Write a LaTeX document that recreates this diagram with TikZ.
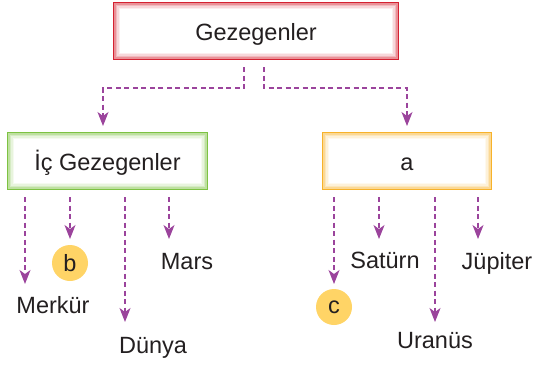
\documentclass[tikz,border=0pt]{standalone}
\usepackage{fontspec}
\setmainfont{Liberation Sans}
\usetikzlibrary{arrows.meta}
\definecolor{txt}{HTML}{231F20}
\definecolor{arrc}{HTML}{9B449C}
\definecolor{dotc}{HTML}{FFD466}
\definecolor{redb}{HTML}{D42030}
\definecolor{greenb}{HTML}{7DC242}
\definecolor{orangeb}{HTML}{F7B22A}
\newcommand\lbl{\fontsize{23.5}{27}\selectfont}
\newcommand\glowrect[2]{%
  \foreach \d/\p in {1.5/50,3/32,4.5/18,6/8}
    \draw[#2!\p!white, line width=1.5pt] ([shift={(\d,\d)}]#1.north west) rectangle ([shift={(-\d,-\d)}]#1.south east);
  \draw[#2, line width=1pt] (#1.north west) rectangle (#1.south east);
}
\tikzset{
  box/.style={draw=#1, line width=1pt, fill=white, minimum height=56pt, font=\lbl, text=txt, text height=22pt, text depth=4pt, inner sep=0pt},
  boxlbl/.style={font=\lbl, text=txt, text height=22pt, text depth=4pt, inner sep=0pt},
  arr/.style={draw=arrc, line width=1.2pt, dash pattern=on 5pt off 3.5pt, -{Stealth[length=14pt,width=11pt,inset=4pt]}},
  leaf/.style={font=\lbl, text=txt, inner sep=0pt, anchor=base},
  dot/.style={circle, fill=dotc, minimum size=36pt, inner sep=0pt, font=\lbl, text=txt},
}
\begin{document}
\begin{tikzpicture}[x=1pt,y=-1pt]
\useasboundingbox (0,0) rectangle (534,364);
% boxes
\node[box=redb, minimum width=284pt] (top) at (256,31) {};
\glowrect{top}{redb}
\node[boxlbl] (toplbl) at (top.center) {Gezegenler};
\node[box=greenb, minimum width=199pt] (ic) at (107.5,161) {};
\glowrect{ic}{greenb}
\node[boxlbl] (iclbl) at (ic.center) {İç Gezegenler};
\node[box=orangeb, minimum width=168pt] (dis) at (407,161) {};
\glowrect{dis}{orangeb}
\node[boxlbl] (dislbl) at (dis.center) {a};
% top connectors
\coordinate (s1) at (244,67);
\coordinate (s2) at (264,67);
\coordinate (e1) at (103,126);
\coordinate (e2) at (407,126);
\draw[arr] (s1) -- ++(0,21) -| (e1);
\draw[arr] (s2) -- ++(0,21) -| (e2);
% leaves
\node[leaf] (merkur) at (53,313) {Merkür};
\node[dot] (b) at (70,263) {b};
\node[leaf] (dunya) at (153,353) {Dünya};
\node[leaf] (mars) at (187,269) {Mars};
\node[dot] (c) at (334,307) {c};
\node[leaf] (saturn) at (385,268) {Satürn};
\node[leaf] (uranus) at (435,348) {Uranüs};
\node[leaf] (jupiter) at (497,269) {Jüpiter};
% leaf arrows
\foreach \n/\x/\y in {a1/25/284, a2/70/239, a3/125/322, a4/169/239, a5/334/284, a6/379/239, a7/435/322, a8/478/239}{
  \coordinate (\n s) at (\x,197);
  \coordinate (\n e) at (\x,\y);
  \draw[arr] (\n s) -- (\n e);
}
\end{tikzpicture}
\end{document}
